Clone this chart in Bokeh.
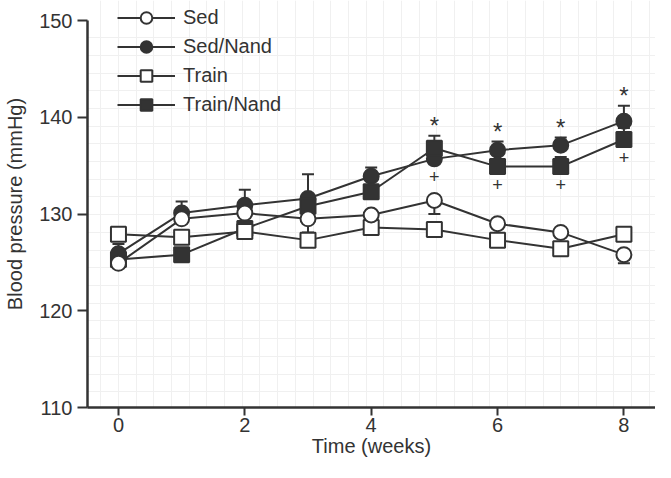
from bokeh.plotting import figure
from bokeh.models import (Range1d, Whisker, TeeHead, ColumnDataSource, Legend,
                          LegendItem, SingleIntervalTicker, FixedTicker)
from bokeh.embed import file_html
from bokeh.resources import INLINE
from bokeh.core.properties import value

# ---------------- data ----------------
weeks = [0, 1, 2, 3, 4, 5, 6, 7, 8]
sed = [124.9, 129.5, 130.1, 129.5, 129.9, 131.4, 129.0, 128.1, 125.8]
sed_nand = [125.9, 130.1, 130.9, 131.6, 133.9, 135.7, 136.6, 137.1, 139.6]
train = [127.9, 127.6, 128.2, 127.3, 128.6, 128.4, 127.3, 126.4, 127.9]
train_nand = [125.3, 125.8, 128.5, 130.8, 132.3, 136.8, 134.9, 134.9, 137.7]

sed_err_low = [0, 0, 0, 1.4, 0, 1.4, 0, 0, 0.9]
sed_nand_err_up = [1.0, 1.2, 1.6, 2.5, 0.9, 0, 0.9, 0.8, 1.6]
train_nand_err_up = [0, 0, 0, 0, 0, 1.3, 0, 1.0, 1.2]

star_weeks = [5, 6, 7, 8]
plus_weeks = [5, 6, 7, 8]

x_ticks = [0, 2, 4, 6, 8]
y_ticks = [110, 120, 130, 140, 150]

series_names = ["Sed", "Sed/Nand", "Train", "Train/Nand"]

INK = "#333333"
FONT = "Liberation Sans"
FS = "20px"

p = figure(width=655, height=462,
           x_range=Range1d(-0.49, 8.50), y_range=Range1d(110, 152.07),
           output_backend="svg", toolbar_location=None,
           min_border_left=87, min_border_right=0, min_border_top=0,
           min_border_bottom=55)
p.outline_line_color = None
p.background_fill_color = "white"
p.border_fill_color = "white"

# faint paper grid
p.xgrid.ticker = SingleIntervalTicker(interval=0.28)
p.ygrid.ticker = SingleIntervalTicker(interval=1.83)
p.xgrid.grid_line_color = "#f0f0f0"
p.ygrid.grid_line_color = "#f0f0f0"

# axes
p.xaxis.ticker = FixedTicker(ticks=x_ticks)
p.yaxis.ticker = FixedTicker(ticks=y_ticks)
p.yaxis.bounds = (110, 150)
for ax in (p.xaxis[0], p.yaxis[0]):
    ax.axis_line_color = INK
    ax.axis_line_width = 2.5
    ax.major_tick_line_color = INK
    ax.major_tick_line_width = 2
    ax.major_tick_in = 0
    ax.minor_tick_line_color = None
    ax.major_label_text_font = FONT
    ax.major_label_text_font_size = FS
    ax.major_label_text_color = INK
    ax.axis_label_text_font = FONT
    ax.axis_label_text_font_size = FS
    ax.axis_label_text_font_style = "normal"
    ax.axis_label_text_color = INK
p.xaxis.major_tick_out = 8
p.xaxis.major_label_standoff = 2
p.xaxis.axis_label_standoff = 0
p.xaxis.axis_label = "Time (weeks)"
p.yaxis.major_tick_out = 10
p.yaxis.major_label_standoff = 5
p.yaxis.axis_label_standoff = 10
p.yaxis.axis_label = "Blood pressure (mmHg)"

# error bars
def add_whisker(xs, base_vals, errs, direction):
    bx, lo, hi = [], [], []
    for x, v, e in zip(xs, base_vals, errs):
        if e > 0:
            bx.append(x)
            if direction > 0:
                lo.append(v); hi.append(v + e)
            else:
                lo.append(v - e); hi.append(v)
    src = ColumnDataSource(dict(x=bx, lower=lo, upper=hi))
    head = TeeHead(size=12, line_color=INK, line_width=2)
    if direction > 0:
        w = Whisker(source=src, base="x", lower="lower", upper="upper",
                    upper_head=head, lower_head=None,
                    line_color=INK, line_width=2, level="underlay")
    else:
        w = Whisker(source=src, base="x", lower="lower", upper="upper",
                    lower_head=head, upper_head=None,
                    line_color=INK, line_width=2, level="underlay")
    p.add_layout(w)

add_whisker(weeks, sed, sed_err_low, -1)
add_whisker(weeks, sed_nand, sed_nand_err_up, +1)
add_whisker(weeks, train_nand, train_nand_err_up, +1)

# lines
vals = {"Sed": sed, "Sed/Nand": sed_nand, "Train": train, "Train/Nand": train_nand}
style = {"Sed": ("circle", "white"), "Sed/Nand": ("circle", INK),
         "Train": ("square", "white"), "Train/Nand": ("square", INK)}
lines = {}
for name in series_names:
    lines[name] = p.line(weeks, vals[name], line_color=INK, line_width=2)

marks = {}
for name in ["Sed/Nand", "Train/Nand", "Train", "Sed"]:
    mk, fill = style[name]
    marks[name] = p.scatter(weeks, vals[name], marker=mk, size=15,
                            fill_color=fill, line_color=INK, line_width=2)

# significance markers (placed relative to the data, offsets in pixels)
sn_top = [v + e for v, e in zip(sed_nand, sed_nand_err_up)]
tn_top = [v + e for v, e in zip(train_nand, train_nand_err_up)]
star_y = [max(sn_top[w], tn_top[w]) for w in star_weeks]
plus_y = [min(sed_nand[w], train_nand[w]) for w in plus_weeks]
p.text(x=star_weeks, y=star_y, text=["*"] * len(star_weeks),
       text_font=value(FONT), text_font_size="24px", text_color=INK,
       text_align="center", text_baseline="middle", y_offset=-10)
p.text(x=plus_weeks, y=plus_y, text=["+"] * len(plus_weeks),
       text_font=value(FONT), text_font_size="18px", text_color=INK,
       text_align="center", text_baseline="middle", y_offset=18)

legend = Legend(items=[LegendItem(label=n, renderers=[lines[n], marks[n]])
                       for n in series_names],
                location=(30, 288), orientation="vertical",
                label_text_font=FONT, label_text_font_size=FS,
                label_text_color=INK, glyph_width=58, glyph_height=29,
                label_height=22, spacing=0, padding=0, margin=0,
                label_standoff=8, border_line_color=None,
                background_fill_alpha=0)
p.add_layout(legend)

open("out.html", "w").write(file_html(p, INLINE))
